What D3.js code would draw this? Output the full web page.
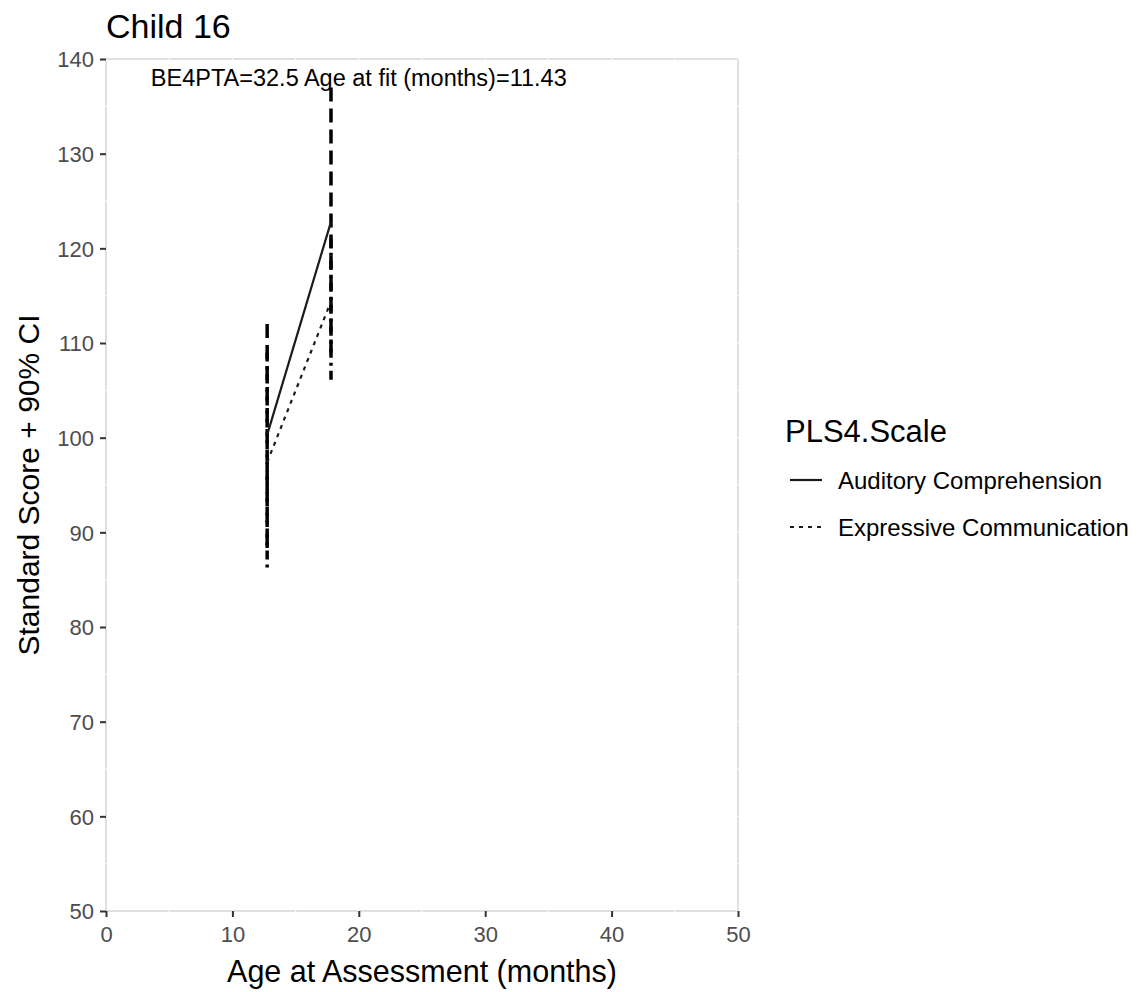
<!DOCTYPE html>
<html>
<head>
<meta charset="utf-8">
<script src="https://cdn.jsdelivr.net/npm/d3@7"></script>
<style>
  body { margin: 0; background: #fff; }
  svg { display: block; font-family: "Liberation Sans", Arial, Helvetica, sans-serif; }
</style>
</head>
<body>
<svg width="1138" height="992"></svg>
<script>
// one child, two PLS4 scales, two assessments
const scales = ["Auditory Comprehension", "Expressive Communication"];
const ages = [12.75, 17.8];
const auditory = [100.3, 122.8];
const auditoryLo = [88, 109];
const auditoryHi = [112, 137];
const expressive = [97.4, 114.4];
const expressiveLo = [86, 106];
const expressiveHi = [109, 121];
const xTicks = [0, 10, 20, 30, 40, 50];
const yTicks = [50, 60, 70, 80, 90, 100, 110, 120, 130, 140];
const note = {age: 20, score: 138, text: "BE4PTA=32.5 Age at fit (months)=11.43"};

const series = [
    {name: scales[0], dash: null, barDash: "14,7", values: auditory, lo: auditoryLo, hi: auditoryHi},
    {name: scales[1], dash: "4,5", barDash: "9,5,3,5", values: expressive, lo: expressiveLo, hi: expressiveHi},
];

const svg = d3.select("svg");
const panel = {left: 106, right: 738, top: 59, bottom: 911};

const x = d3.scaleLinear().domain([0, 50]).range([panel.left, panel.right]);
const y = d3.scaleLinear().domain([50, 140]).range([panel.bottom, panel.top]);

// panel border, then white grid lines that nick it
svg.append("rect")
    .attr("x", panel.left).attr("y", panel.top)
    .attr("width", panel.right - panel.left).attr("height", panel.bottom - panel.top)
    .attr("fill", "none")
    .attr("stroke", "#c0c0c0")
    .attr("stroke-width", 2);

let grid = svg.append("g").attr("stroke", "#fff").attr("stroke-width", 1);
d3.range(0, 50.1, 5).forEach(v => {
    grid.append("line").attr("x1", x(v)).attr("x2", x(v)).attr("y1", panel.top - 1).attr("y2", panel.bottom + 1);
});
d3.range(50, 140.1, 5).forEach(v => {
    grid.append("line").attr("y1", y(v)).attr("y2", y(v)).attr("x1", panel.left - 1).attr("x2", panel.right + 1);
});

// axes
const xAxis = svg.append("g")
    .attr("transform", `translate(0,${panel.bottom})`)
    .call(d3.axisBottom(x).tickValues(xTicks).tickSize(6).tickPadding(6));
const yAxis = svg.append("g")
    .attr("transform", `translate(${panel.left},0)`)
    .call(d3.axisLeft(y).tickValues(yTicks).tickSize(6).tickPadding(6));

[xAxis, yAxis].forEach(a => {
    a.select(".domain").remove();
    a.selectAll(".tick line").attr("stroke", "#333").attr("stroke-width", 2);
    a.selectAll(".tick text")
        .attr("fill", "#4d4d4d")
        .style("font-size", "22px")
        .style("font-family", "Liberation Sans, Arial, sans-serif");
});
xAxis.selectAll(".tick text").attr("dy", "0.85em");
yAxis.selectAll(".tick text").attr("dy", "0.36em");

// error bars
series.forEach(s => {
    svg.append("g")
        .selectAll("line")
        .data(ages.map((a, i) => ({a, lo: s.lo[i], hi: s.hi[i]})))
        .enter().append("line")
        .attr("x1", d => x(d.a))
        .attr("x2", d => x(d.a))
        .attr("y1", d => y(d.hi))
        .attr("y2", d => y(d.lo))
        .attr("stroke", "#000")
        .attr("stroke-width", 3.5)
        .attr("stroke-dasharray", s.barDash);
});

// score lines
const line = d3.line().x((d, i) => x(ages[i])).y(d => y(d));
series.forEach(s => {
    svg.append("path")
        .datum(s.values)
        .attr("d", line)
        .attr("fill", "none")
        .attr("stroke", "#1a1a1a")
        .attr("stroke-width", 2.2)
        .attr("stroke-dasharray", s.dash);
});

// annotation
svg.append("text")
    .attr("x", x(note.age))
    .attr("y", y(note.score) + 8)
    .attr("text-anchor", "middle")
    .style("font-size", "23.5px")
    .attr("fill", "#000")
    .text(note.text);

// titles
svg.append("text")
    .attr("x", panel.left)
    .attr("y", 38)
    .style("font-size", "34px")
    .text("Child 16");

svg.append("text")
    .attr("x", (panel.left + panel.right) / 2)
    .attr("y", 982)
    .attr("text-anchor", "middle")
    .style("font-size", "30.5px")
    .text("Age at Assessment (months)");

svg.append("text")
    .attr("transform", `translate(39,${(panel.top + panel.bottom) / 2}) rotate(-90)`)
    .attr("text-anchor", "middle")
    .style("font-size", "30px")
    .text("Standard Score + 90% CI");

// legend
const legend = svg.append("g").attr("transform", "translate(785,0)");
legend.append("text")
    .attr("x", 0).attr("y", 442)
    .style("font-size", "31px")
    .text("PLS4.Scale");

const item = legend.selectAll("g.item")
    .data(series)
    .enter().append("g")
    .attr("class", "item")
    .attr("transform", (d, i) => `translate(0,${480 + i * 47})`);

item.append("line")
    .attr("x1", 5).attr("x2", 37)
    .attr("y1", 0).attr("y2", 0)
    .attr("stroke", "#1a1a1a")
    .attr("stroke-width", 2.2)
    .attr("stroke-dasharray", d => d.dash);

item.append("text")
    .attr("x", 53).attr("y", 0)
    .attr("dy", "0.36em")
    .style("font-size", "24px")
    .text(d => d.name);
</script>
</body>
</html>
